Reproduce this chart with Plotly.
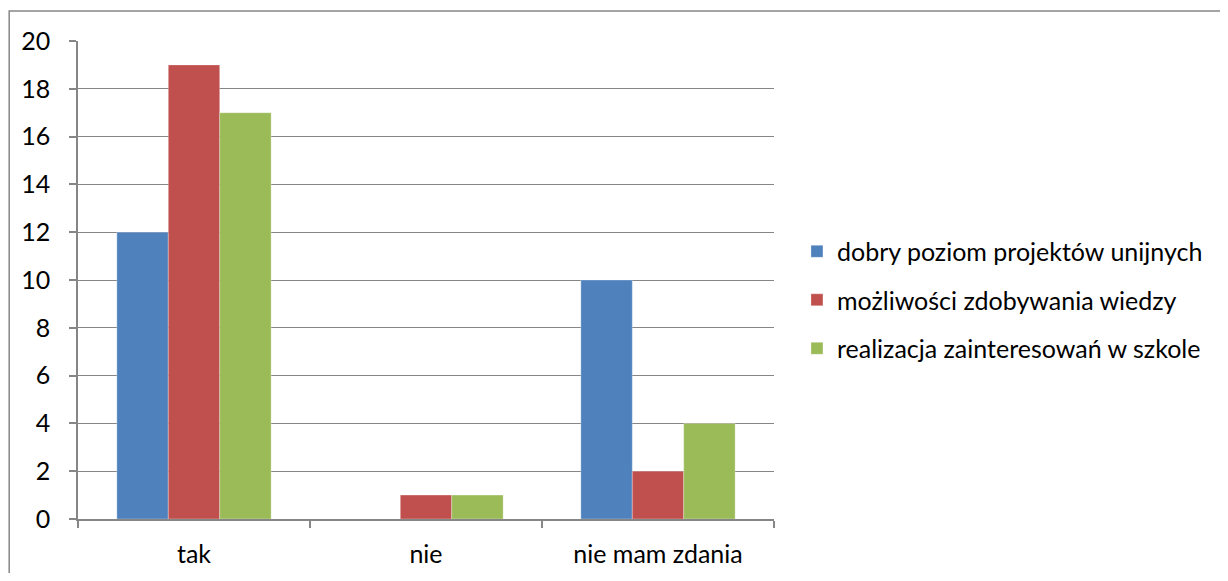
import plotly.graph_objs as go

categories = ['tak', 'nie', 'nie mam zdania']
series_names = ['dobry poziom projektów unijnych',
                'możliwości zdobywania wiedzy',
                'realizacja zainteresowań w szkole']
dobry_poziom = [12, 0, 10]
mozliwosci = [19, 1, 2]
realizacja = [17, 1, 4]
colors = ['#4F81BD', '#C0504D', '#9BBB59']

fig = go.Figure()
for i, (name, vals) in enumerate(zip(series_names, [dobry_poziom, mozliwosci, realizacja])):
    fig.add_trace(go.Bar(x=categories, y=vals, name=name, legendgroup=str(i),
                         marker=dict(color=colors[i], line=dict(color='rgba(255,255,255,0.6)', width=0.5))))

grey = '#868686'
# page body has an 8px margin, so the figure starts at (8, 8)
fig.update_layout(
    width=1212, height=565,
    margin=dict(l=70, r=444, t=33, b=54),
    paper_bgcolor='white', plot_bgcolor='white',
    font=dict(family='Lato, Liberation Sans, sans-serif', size=25, color='black'),
    barmode='group', bargap=0.335, bargroupgap=0,
    showlegend=True,
    legend=dict(x=1.033, y=0.458, xanchor='left', yanchor='middle',
                traceorder='grouped', tracegroupgap=13,
                font=dict(size=25), itemclick=False),
    xaxis=dict(showline=True, linecolor=grey, linewidth=1.5, ticks='outside',
               tickson='boundaries', ticklen=7, tickcolor=grey, tickwidth=1.5,
               showgrid=False, ticklabelstandoff=12, automargin=False),
    yaxis=dict(range=[0, 20], dtick=2, showline=True, linecolor=grey, linewidth=1.5,
               ticks='outside', ticklen=7, tickcolor=grey, tickwidth=1.5,
               showgrid=True, gridcolor=grey, gridwidth=1.2, zeroline=False,
               ticklabelstandoff=14, automargin=False),
    shapes=[dict(type='rect', xref='paper', yref='paper',
                 x0=(1 - 70) / 698, x1=(1240 - 70) / 698,
                 y0=-0.3, y1=(511 - 3) / 478,
                 line=dict(color=grey, width=1.5), layer='below')],
)

fig.write_html("out.html")
